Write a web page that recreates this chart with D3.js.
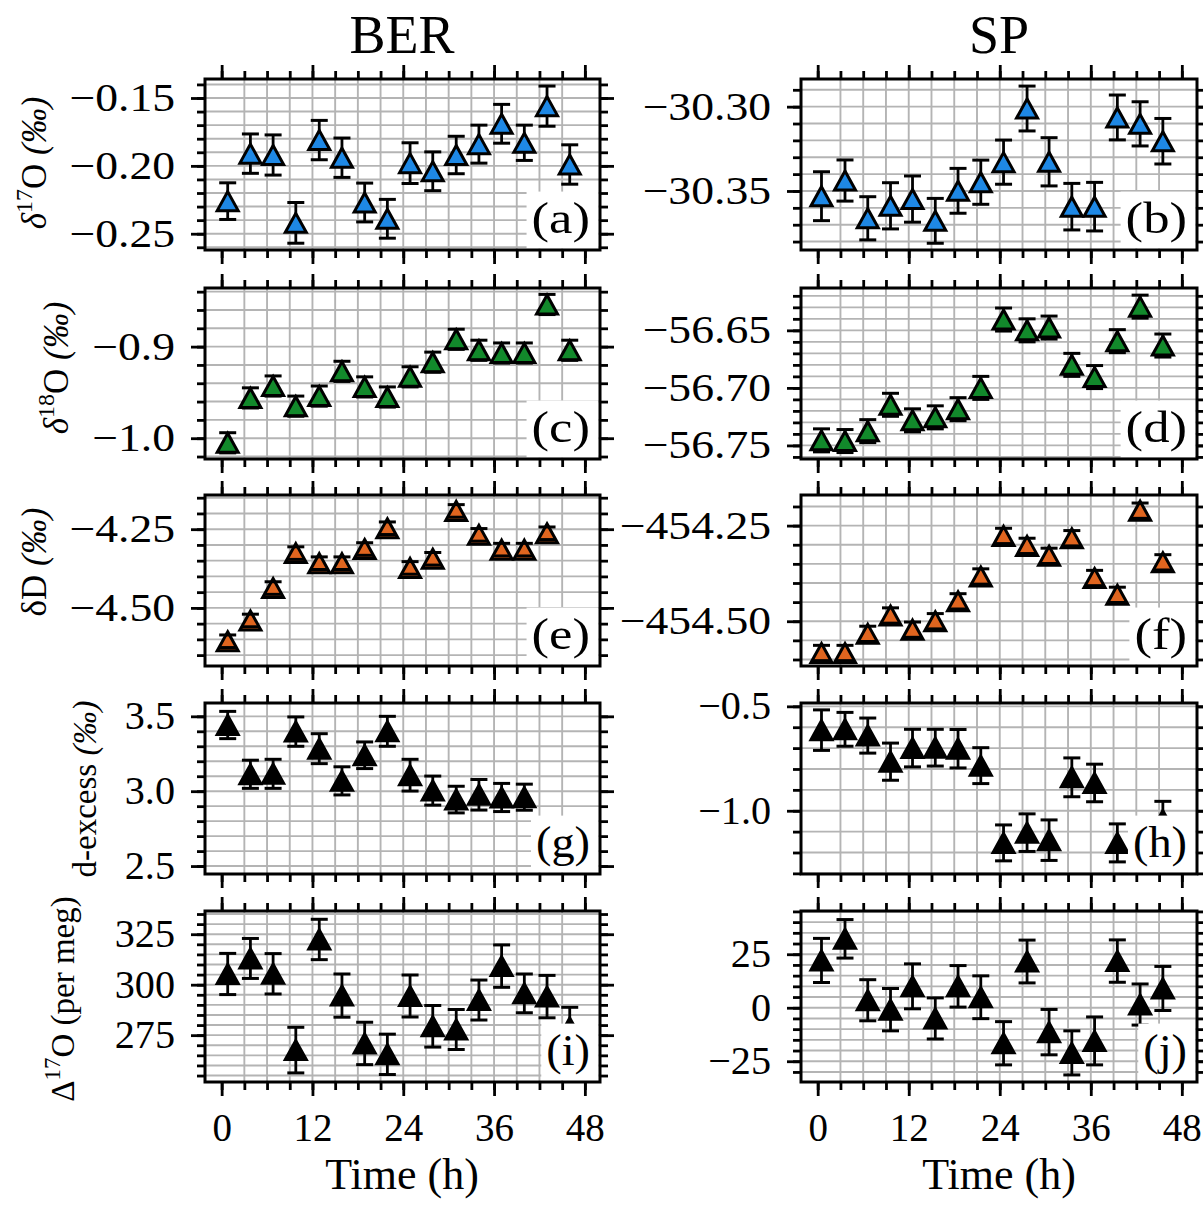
<!DOCTYPE html>
<html>
<head>
<meta charset="utf-8">
<script src="https://cdn.jsdelivr.net/npm/d3@7"></script>
<style>
  body { margin: 0; background: #fff; }
</style>
</head>
<body>
<div id="chart"></div>
<script>
// Sampling times (h) of the two sites.
const berTime = [0.8, 3.8, 6.8, 9.8, 12.9, 15.9, 18.9, 21.9, 24.9, 27.9, 31.0, 34.0, 37.0, 40.0, 43.0, 46.0];
const spTime = [0.5, 3.6, 6.6, 9.6, 12.5, 15.5, 18.5, 21.5, 24.5, 27.6, 30.5, 33.5, 36.5, 39.5, 42.5, 45.5];

// BER series (value, error).
const berD17O = [-0.226, -0.191, -0.192, -0.242, -0.181, -0.194, -0.227, -0.239, -0.198, -0.204, -0.192, -0.184, -0.169, -0.183, -0.156, -0.199];
const berD17OErr = [0.0135, 0.0145, 0.0148, 0.015, 0.0145, 0.0145, 0.0143, 0.0143, 0.015, 0.0143, 0.0138, 0.014, 0.0143, 0.013, 0.0148, 0.0145];
const berD18O = [-1.005, -0.956, -0.943, -0.965, -0.954, -0.927, -0.944, -0.955, -0.933, -0.917, -0.892, -0.904, -0.907, -0.907, -0.854, -0.904];
const berD18OErr = [0.011, 0.011, 0.011, 0.011, 0.011, 0.011, 0.011, 0.011, 0.011, 0.011, 0.011, 0.011, 0.011, 0.011, 0.011, 0.011];
const berDD = [-4.606, -4.540, -4.437, -4.326, -4.358, -4.358, -4.313, -4.247, -4.373, -4.344, -4.192, -4.268, -4.315, -4.315, -4.263, null];
const berDDErr = [0.02, 0.02, 0.02, 0.02, 0.02, 0.02, 0.02, 0.02, 0.02, 0.02, 0.02, 0.02, 0.02, 0.02, 0.02, null];
const berDex = [3.442, 3.113, 3.116, 3.398, 3.284, 3.069, 3.240, 3.400, 3.107, 3.004, 2.944, 2.976, 2.958, 2.960, null, null];
const berDexErr = [0.091, 0.094, 0.097, 0.098, 0.100, 0.094, 0.089, 0.100, 0.106, 0.097, 0.089, 0.102, 0.094, 0.087, null, null];
const berCap17O = [305.3, 313.0, 305.4, 267.6, 322.4, 294.6, 270.9, 265.5, 294.4, 279.4, 277.8, 292.4, 309.2, 295.7, 294.1, 278.8];
const berCap17OErr = [10.2, 9.9, 10.0, 11.3, 10.0, 10.7, 10.5, 10.0, 10.4, 10.3, 9.9, 9.9, 10.5, 9.6, 10.5, 10.0];

// SP series (value, error).
const spD17O = [-30.3531, -30.3438, -30.3662, -30.3588, -30.3548, -30.3677, -30.3499, -30.3448, -30.3329, -30.3011, -30.3327, -30.3593, -30.3593, -30.3064, -30.3102, -30.3205];
const spD17OErr = [0.0145, 0.0122, 0.0128, 0.0137, 0.0137, 0.0133, 0.0133, 0.0131, 0.0131, 0.0133, 0.0143, 0.0138, 0.0144, 0.0133, 0.0131, 0.0135];
const spD18O = [-56.7456, -56.7462, -56.7376, -56.7147, -56.7282, -56.7256, -56.7185, -56.7000, -56.6406, -56.6500, -56.6476, -56.6800, -56.6906, -56.6594, -56.6294, -56.6632];
const spD18OErr = [0.010, 0.010, 0.010, 0.010, 0.010, 0.010, 0.010, 0.010, 0.010, 0.010, 0.010, 0.010, 0.010, 0.010, 0.010, 0.010];
const spDD = [-454.583, -454.583, -454.533, -454.485, -454.522, -454.500, -454.448, -454.383, -454.277, -454.303, -454.329, -454.283, -454.387, -454.431, -454.211, -454.346];
const spDDErr = [0.02, 0.02, 0.02, 0.02, 0.02, 0.02, 0.02, 0.02, 0.02, 0.02, 0.02, 0.02, 0.02, 0.02, 0.02, 0.02];
const spDex = [-0.614, -0.610, -0.640, -0.765, -0.700, -0.698, -0.703, -0.784, -1.154, -1.105, -1.141, -0.840, -0.867, -1.154, null, -1.045];
const spDexErr = [0.097, 0.081, 0.084, 0.089, 0.090, 0.088, 0.092, 0.086, 0.086, 0.090, 0.097, 0.093, 0.090, 0.091, null, 0.090];
const spCap17O = [22.1, 32.2, 3.5, -0.9, 10.0, -5.0, 10.0, 4.9, -16.6, 21.6, -11.4, -21.1, -15.5, 21.8, 1.5, 9.0];
const spCap17OErr = [10.3, 9.0, 9.6, 9.9, 10.5, 9.6, 9.7, 10.0, 10.1, 10.0, 10.6, 10.3, 11.2, 9.9, 9.6, 10.3];

// Tick labels.
const timeTicks = [0, 12, 24, 36, 48];
const yTicksA = [-0.25, -0.20, -0.15];
const yTicksB = [-30.35, -30.30];
const yTicksC = [-1.0, -0.9];
const yTicksD = [-56.75, -56.70, -56.65];
const yTicksE = [-4.50, -4.25];
const yTicksF = [-454.50, -454.25];
const yTicksG = [2.5, 3.0, 3.5];
const yTicksH = [-1.0, -0.5];
const yTicksI = [275, 300, 325];
const yTicksJ = [-25, 0, 25];

// Layout.
const W = 1203, H = 1212;
const rowTop = [79, 288, 495, 703, 911], panelH = 171;
const rowStretch = [1.17, 1.17, 1.17, 1.03, 1.03]; // the upper rows have wider lettering
const colX = [[205, 600], [801, 1197]];
const timeDomain = [-2.2, 50];
const serif = "'Liberation Serif', 'Times New Roman', serif";
const blue = "#1e88e5", green = "#12892b", orange = "#e0651f", black = "#000";
const gridColor = "#b4b4b4";

const panels = [
    {label: "(a)", col: 0, row: 0, t: berTime, v: berD17O, e: berD17OErr, lo: -0.262, hi: -0.136, ticks: yTicksA, step: 0.01, fmt: ".2f", fill: blue},
    {label: "(b)", col: 1, row: 0, t: spTime, v: spD17O, e: spD17OErr, lo: -30.385, hi: -30.2836, ticks: yTicksB, step: 0.01, fmt: ".2f", fill: blue},
    {label: "(c)", col: 0, row: 1, t: berTime, v: berD18O, e: berD18OErr, lo: -1.0227, hi: -0.836, ticks: yTicksC, step: 0.02, fmt: ".1f", fill: green},
    {label: "(d)", col: 1, row: 1, t: spTime, v: spD18O, e: spD18OErr, lo: -56.7618, hi: -56.6132, ticks: yTicksD, step: 0.01, fmt: ".2f", fill: green},
    {label: "(e)", col: 0, row: 2, t: berTime, v: berDD, e: berDDErr, lo: -4.6846, hi: -4.1414, ticks: yTicksE, step: 0.05, fmt: ".2f", fill: orange},
    {label: "(f)", col: 1, row: 2, t: spTime, v: spDD, e: spDDErr, lo: -454.617, hi: -454.17, ticks: yTicksF, step: 0.05, fmt: ".2f", fill: orange},
    {label: "(g)", col: 0, row: 3, t: berTime, v: berDex, e: berDexErr, lo: 2.447, hi: 3.589, ticks: yTicksG, step: 0.1, fmt: ".1f", fill: black},
    {label: "(h)", col: 1, row: 3, t: spTime, v: spDex, e: spDexErr, lo: -1.303, hi: -0.484, ticks: yTicksH, step: 0.1, fmt: ".1f", fill: black},
    {label: "(i)", col: 0, row: 4, t: berTime, v: berCap17O, e: berCap17OErr, lo: 251.8, hi: 336.5, ticks: yTicksI, step: 5, fmt: ".0f", fill: black},
    {label: "(j)", col: 1, row: 4, t: spTime, v: spCap17O, e: spCap17OErr, lo: -34.7, hi: 45.2, ticks: yTicksJ, step: 5, fmt: ".0f", fill: black}
];

const svg = d3.select("#chart")
    .append("svg")
    .attr("width", W)
    .attr("height", H)
    .style("background", "#fff");

// Values on a regular step inside [lo, hi].
function stepValues(lo, hi, step) {
    const k0 = Math.ceil(lo / step - 1e-6), k1 = Math.floor(hi / step + 1e-6);
    return d3.range(k0, k1 + 1).map(k => +(k * step).toFixed(6));
}

function styleAxis(sel) {
    sel.select(".domain").remove();
    sel.selectAll(".tick line").attr("stroke", "#000").attr("stroke-width", 2.8);
    sel.attr("font-family", serif).attr("font-size", 39);
    sel.selectAll(".tick text").attr("fill", "#000");
}

const tw = 10.5, th = 9.5; // half width / half height of the triangle marker
const triangle = `M0,${-th}L${tw},${th}L${-tw},${th}Z`;

panels.forEach(p => {
    const [x0, x1] = colX[p.col];
    const y0 = rowTop[p.row], y1 = y0 + panelH;
    const s = rowStretch[p.row];
    const x = d3.scaleLinear().domain(timeDomain).range([x0, x1]);
    const y = d3.scaleLinear().domain([p.lo, p.hi]).range([y1, y0]);
    const minorY = stepValues(p.lo, p.hi, p.step);
    const minorX = d3.range(0, 49, 3);

    const g = svg.append("g");

    // Grid.
    g.selectAll(".gy").data(minorY).join("line")
        .attr("x1", x0).attr("x2", x1)
        .attr("y1", d => y(d)).attr("y2", d => y(d))
        .attr("stroke", gridColor).attr("stroke-width", 1.9);
    g.selectAll(".gx").data(minorX.filter(d => d > 0 && d < 48)).join("line")
        .attr("x1", d => x(d)).attr("x2", d => x(d))
        .attr("y1", y0).attr("y2", y1)
        .attr("stroke", gridColor).attr("stroke-width", 1.9);

    const pts = p.t.map((t, i) => ({t: t, v: p.v[i], e: p.e[i]})).filter(d => d.v != null);

    // Error bars, markers, caps.
    g.selectAll(".eb").data(pts).join("line")
        .attr("x1", d => x(d.t)).attr("x2", d => x(d.t))
        .attr("y1", d => y(d.v - d.e)).attr("y2", d => y(d.v + d.e))
        .attr("stroke", "#000").attr("stroke-width", 2.8);
    g.selectAll(".mk").data(pts).join("path")
        .attr("d", triangle)
        .attr("transform", d => `translate(${x(d.t)},${y(d.v)})`)
        .attr("fill", p.fill)
        .attr("stroke", "#000").attr("stroke-width", 3)
        .attr("stroke-linejoin", "miter");
    [1, -1].forEach(k => {
        g.selectAll(".cap" + k).data(pts).join("line")
            .attr("x1", d => x(d.t) - 8.5).attr("x2", d => x(d.t) + 8.5)
            .attr("y1", d => y(d.v + k * d.e)).attr("y2", d => y(d.v + k * d.e))
            .attr("stroke", "#000").attr("stroke-width", 3);
    });

    // Panel letter on a white box.
    const lx = x1 - 10, ly = y1 - 17;
    const box = g.append("rect").attr("fill", "#fff");
    const lab = g.append("text")
        .attr("transform", `translate(${lx},${ly}) scale(${s},1)`)
        .attr("text-anchor", "end")
        .attr("font-family", serif).attr("font-size", 45)
        .text(p.label);
    const bb = lab.node().getBBox();
    const bx = lx + bb.x * s - 5, by = ly + bb.y - 1;
    box.attr("x", bx).attr("y", by)
        .attr("width", x1 - 1.5 - bx)
        .attr("height", y1 - 1.5 - by);

    // Frame.
    g.append("rect")
        .attr("x", x0).attr("y", y0)
        .attr("width", x1 - x0).attr("height", panelH)
        .attr("fill", "none").attr("stroke", "#000").attr("stroke-width", 3);

    // Ticks on all four sides.
    svg.append("g").attr("transform", `translate(${x0},0)`)
        .call(d3.axisLeft(y).tickValues(minorY).tickSize(8).tickFormat("")).call(styleAxis);
    svg.append("g").attr("transform", `translate(${x0},0)`)
        .call(d3.axisLeft(y).tickValues(p.ticks).tickSize(14).tickFormat(d3.format(p.fmt)))
        .call(styleAxis)
        .call(ax => ax.selectAll(".tick text")
            .attr("x", -30 / s)
            .attr("transform", `scale(${s},1)`));
    svg.append("g").attr("transform", `translate(${x1},0)`)
        .call(d3.axisRight(y).tickValues(minorY).tickSize(8).tickFormat("")).call(styleAxis);
    svg.append("g").attr("transform", `translate(${x1},0)`)
        .call(d3.axisRight(y).tickValues(p.ticks).tickSize(14).tickFormat("")).call(styleAxis);
    svg.append("g").attr("transform", `translate(0,${y0})`)
        .call(d3.axisTop(x).tickValues(minorX).tickSize(8).tickFormat("")).call(styleAxis);
    svg.append("g").attr("transform", `translate(0,${y0})`)
        .call(d3.axisTop(x).tickValues(timeTicks).tickSize(14).tickFormat("")).call(styleAxis);
    svg.append("g").attr("transform", `translate(0,${y1})`)
        .call(d3.axisBottom(x).tickValues(minorX).tickSize(8).tickFormat("")).call(styleAxis);
    svg.append("g").attr("transform", `translate(0,${y1})`)
        .call(d3.axisBottom(x).tickValues(timeTicks).tickSize(14).tickPadding(17)
            .tickFormat(p.row === 4 ? d3.format("d") : "")).call(styleAxis);
});

// Column titles and x labels.
[["BER", 402], ["SP", 999]].forEach(([name, cx]) => {
    svg.append("text").attr("x", cx).attr("y", 53)
        .attr("text-anchor", "middle").attr("font-family", serif).attr("font-size", 54)
        .text(name);
    svg.append("text").attr("x", cx).attr("y", 1189)
        .attr("text-anchor", "middle").attr("font-family", serif).attr("font-size", 44)
        .text("Time (h)");
});

// Y labels (rotated), built from tspans.
const yLabels = [
    {x: 34, y: 163, size: 35, parts: [["δ", "italic"], ["17", "sup"], ["O", ""], [" (‰)", "italic"]]},
    {x: 56, y: 368, size: 35, parts: [["δ", "italic"], ["18", "sup"], ["O", ""], [" (‰)", "italic"]]},
    {x: 34, y: 562, size: 35, parts: [["δD", ""], [" (‰)", "italic"]]},
    {x: 84, y: 789, size: 33, parts: [["d-excess", ""], [" (‰)", "italic"]]},
    {x: 62, y: 999, size: 33, parts: [["Δ", ""], ["17", "sup"], ["O", ""], [" (per meg)", ""]]}
];
yLabels.forEach(l => {
    const t = svg.append("text")
        .attr("transform", `translate(${l.x},${l.y}) rotate(-90)`)
        .attr("text-anchor", "middle")
        .attr("dy", "0.35em")
        .attr("font-family", serif).attr("font-size", l.size);
    let shift = 0;
    l.parts.forEach(([str, kind]) => {
        const sp = t.append("tspan").text(str);
        if (kind === "sup") {
            sp.attr("font-size", Math.round(l.size * 0.69)).attr("dy", -14);
            shift = 14;
        } else {
            if (shift) { sp.attr("dy", shift); shift = 0; }
            if (kind === "italic") sp.attr("font-style", "italic");
        }
    });
});
</script>
</body>
</html>
